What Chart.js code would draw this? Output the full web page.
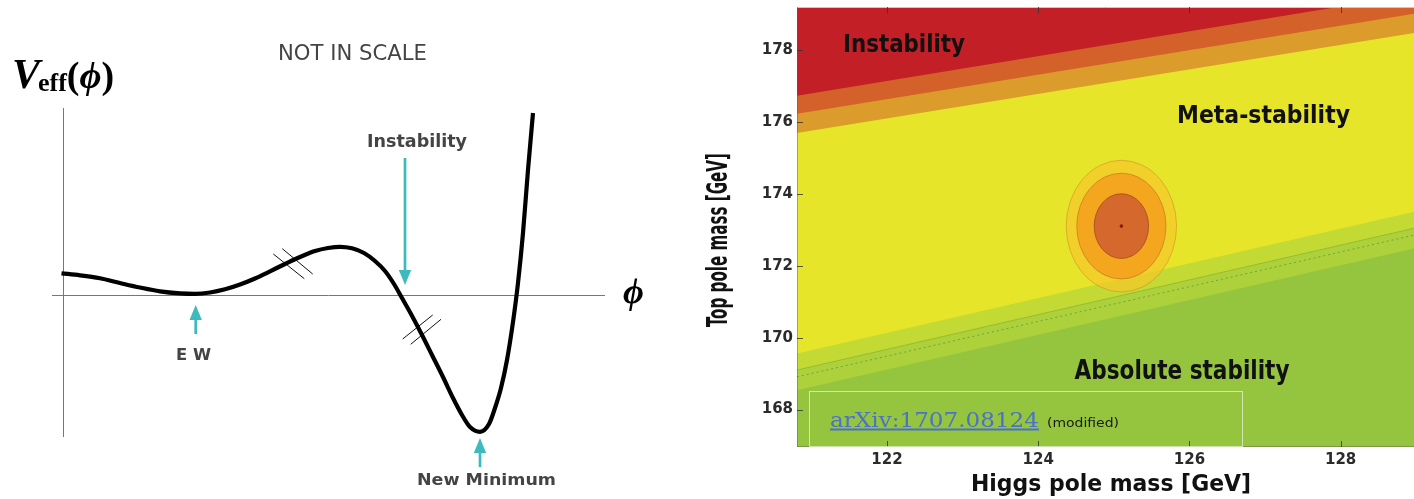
<!DOCTYPE html>
<html>
<head>
<meta charset="utf-8">
<script src="https://cdn.jsdelivr.net/npm/chart.js@4.4.0/dist/chart.umd.min.js"></script>
<style>
  body { margin: 0; background: #fff; width: 1414px; height: 499px; overflow: hidden; position: relative; }
  #potential { position: absolute; left: 0; top: 0; }
  #stability { position: absolute; left: 700px; top: 0; }
</style>
</head>
<body>
<canvas id="potential" width="700" height="499"></canvas>
<canvas id="stability" width="714" height="499"></canvas>
<script>
// POTENCIAL EFETIVO (unidades arbitrárias)
const phiValues = [-0.15, 1.7, 3.7, 5.7, 7.7, 9.7, 11.7, 13.2, 14.7, 16.2, 17.7, 19.2, 20.7, 22.2,
                   23.7, 25.2, 26.5, 27.7, 28.9, 30.1, 31.2, 32.2, 33.1, 33.9, 34.8, 35.8, 36.9, 38.0,
                   39.0, 39.9, 40.7, 41.7, 42.6, 43.2, 43.8, 44.4, 45.0, 45.5, 46.0, 46.5, 47.0];
const vEffValues = [2.17, 1.97, 1.67, 1.2, 0.75, 0.37, 0.17, 0.12, 0.25, 0.57, 1.05, 1.65, 2.37, 3.1,
                    3.8, 4.4, 4.7, 4.82, 4.67, 4.2, 3.4, 2.4, 1.1, -0.3, -1.9, -3.8, -6.0, -8.2,
                    -10.3, -12.0, -13.2, -13.68, -12.9, -11.3, -9.3, -6.5, -2.7, 1.2, 6.2, 12.5, 18.2];
// marcas de "quebra" na curva: [phi1, V1, phi2, V2]
const breakLines = [
    [21.03, 4.1, 24.13, 1.63],
    [21.93, 4.63, 24.97, 2.1],
    [33.97, -4.4, 36.97, -2.0],
    [34.77, -4.93, 37.8, -2.43]
];

// DIAGRAMA DE ESTABILIDADE (GeV)
const higgsRange = [120.81, 128.97];
const topRange = [166.96, 179.19];
const instabilityEdge = [176.72, 179.54];
const orangeEdge = [176.22, 179.0];
const amberEdge = [175.69, 178.47];
const metaEdge = [169.56, 173.50];
const greenBandEdge = [169.10, 173.04];
const dottedEdge = [168.91, 172.85];
const stableEdge = [168.54, 172.48];
const bestFit = [125.1, 173.1];
const sigmaHiggs = [0.73, 0.59, 0.36];
const sigmaTop = [1.83, 1.47, 0.90];

function fitText(ctx, text, x, y, width, font, color, align) {
    ctx.save();
    ctx.font = font;
    ctx.fillStyle = color;
    ctx.textBaseline = "alphabetic";
    ctx.textAlign = "left";
    const k = width / ctx.measureText(text).width;
    ctx.translate(align === "center" ? x - width / 2 : x, y);
    ctx.scale(k, 1);
    ctx.fillText(text, 0, 0);
    ctx.restore();
}

function arrow(ctx, x, yFrom, yTip) {
    const dir = yTip > yFrom ? 1 : -1;
    ctx.save();
    ctx.strokeStyle = "#3dbabd";
    ctx.fillStyle = "#3dbabd";
    ctx.lineWidth = 2.7;
    ctx.beginPath();
    ctx.moveTo(x, yFrom);
    ctx.lineTo(x, yTip - dir * 12);
    ctx.stroke();
    ctx.beginPath();
    ctx.moveTo(x, yTip);
    ctx.lineTo(x - 6.2, yTip - dir * 15);
    ctx.lineTo(x + 6.2, yTip - dir * 15);
    ctx.closePath();
    ctx.fill();
    ctx.restore();
}

const potentialDecor = {
    id: "potentialDecor",
    beforeDatasetsDraw(chart) {
        const { ctx, chartArea: a, scales: { x, y } } = chart;
        ctx.save();
        ctx.strokeStyle = "#777";
        ctx.lineWidth = 1;
        const x0 = Math.round(x.getPixelForValue(0)) + 0.5;
        const y0 = Math.round(y.getPixelForValue(0)) + 0.5;
        ctx.beginPath();
        ctx.moveTo(x0, a.top); ctx.lineTo(x0, a.bottom);
        ctx.moveTo(a.left, y0); ctx.lineTo(a.right, y0);
        ctx.stroke();
        ctx.restore();
    },
    afterDraw(chart) {
        const { ctx, scales: { x, y } } = chart;
        arrow(ctx, x.getPixelForValue(34.2), y.getPixelForValue(13.7), y.getPixelForValue(1.0));
        arrow(ctx, x.getPixelForValue(13.27), y.getPixelForValue(-3.9), y.getPixelForValue(-1.0));
        arrow(ctx, x.getPixelForValue(41.7), y.getPixelForValue(-17.2), y.getPixelForValue(-14.3));

        fitText(ctx, "NOT IN SCALE", 352.5, 60, 149, '21px "DejaVu Sans"', "#444", "center");
        fitText(ctx, "Instability", 417, 147, 100, 'bold 17px "DejaVu Sans"', "#444", "center");
        fitText(ctx, "E W", 193.5, 360, 35, 'bold 16px "DejaVu Sans"', "#444", "center");
        fitText(ctx, "New Minimum", 486.5, 485, 139, 'bold 16px "DejaVu Sans"', "#444", "center");

        // V_eff(phi)
        ctx.save();
        ctx.fillStyle = "#000";
        ctx.textBaseline = "alphabetic";
        let cx = 12;
        ctx.font = 'italic bold 42px "Liberation Serif", serif';
        ctx.fillText("V", cx, 88);
        cx += ctx.measureText("V").width - 2;
        ctx.font = 'bold 26px "Liberation Serif", serif';
        ctx.fillText("eff", cx, 91);
        cx += ctx.measureText("eff").width;
        ctx.font = 'bold 38px "Liberation Serif", serif';
        ctx.fillText("(", cx, 88);
        cx += ctx.measureText("(").width;
        ctx.font = 'italic bold 38px "Liberation Serif", "DejaVu Serif", serif';
        ctx.fillText("\u03D5", cx, 88);
        cx += ctx.measureText("\u03D5").width;
        ctx.font = 'bold 38px "Liberation Serif", serif';
        ctx.fillText(")", cx, 88);
        ctx.font = 'italic bold 36px "Liberation Serif", "DejaVu Serif", serif';
        ctx.fillText("\u03D5", 623, 303);
        ctx.restore();
    }
};

new Chart(document.getElementById("potential"), {
    type: "line",
    data: {
        datasets: [
            {
                data: phiValues.map((p, i) => ({ x: p, y: vEffValues[i] })),
                borderColor: "#000",
                borderWidth: 4.2,
                pointRadius: 0,
                cubicInterpolationMode: "monotone",
                clip: false
            },
            ...breakLines.map(b => ({
                data: [{ x: b[0], y: b[1] }, { x: b[2], y: b[3] }],
                borderColor: "#111",
                borderWidth: 1,
                pointRadius: 0,
                tension: 0,
                clip: false
            }))
        ]
    },
    options: {
        responsive: false,
        animation: false,
        events: [],
        layout: { padding: { left: 52, right: 95, top: 108, bottom: 62 } },
        plugins: { legend: { display: false }, tooltip: { enabled: false } },
        scales: {
            x: { type: "linear", min: -1.1, max: 54.2, display: false },
            y: { type: "linear", min: -14.2, max: 18.7, display: false }
        }
    },
    plugins: [potentialDecor]
});

// REGIÕES DE ESTABILIDADE
function edge(v) {
    return [{ x: higgsRange[0], y: v[0] }, { x: higgsRange[1], y: v[1] }];
}
function region(v, color, extra) {
    return Object.assign({
        data: edge(v),
        fill: "end",
        backgroundColor: color,
        borderWidth: 0,
        pointRadius: 0,
        tension: 0
    }, extra || {});
}

const condensed = '"Liberation Sans Narrow", "DejaVu Sans Condensed", "DejaVu Sans", sans-serif';

const stabilityDecor = {
    id: "stabilityDecor",
    beforeDatasetsDraw(chart) {
        const { ctx, chartArea: a } = chart;
        ctx.save();
        ctx.fillStyle = "#95c53e";
        ctx.fillRect(a.left, a.top, a.right - a.left, a.bottom - a.top);
        ctx.restore();
    },
    afterDatasetsDraw(chart) {
        const { ctx, chartArea: a, scales: { x, y } } = chart;
        const cx = x.getPixelForValue(bestFit[0]);
        const cy = y.getPixelForValue(bestFit[1]);
        const fills = ["rgba(244,200,42,0.72)", "rgba(244,163,31,0.95)", "rgba(213,104,44,1)"];
        const lines = ["rgba(200,140,40,0.55)", "rgba(185,105,30,0.55)", "rgba(140,60,20,0.6)"];
        ctx.save();
        ctx.beginPath();
        ctx.rect(a.left, a.top, a.right - a.left, a.bottom - a.top);
        ctx.clip();
        sigmaHiggs.forEach((sx, i) => {
            const rx = x.getPixelForValue(bestFit[0] + sx) - cx;
            const ry = cy - y.getPixelForValue(bestFit[1] + sigmaTop[i]);
            ctx.beginPath();
            ctx.ellipse(cx, cy, rx, ry, 0, 0, Math.PI * 2);
            ctx.fillStyle = fills[i];
            ctx.fill();
            ctx.strokeStyle = lines[i];
            ctx.lineWidth = 1;
            ctx.stroke();
        });
        ctx.beginPath();
        ctx.arc(cx, cy, 1.8, 0, Math.PI * 2);
        ctx.fillStyle = "#8a1a12";
        ctx.fill();
        ctx.restore();
    },
    afterDraw(chart) {
        const { ctx, chartArea: a, scales: { x, y } } = chart;
        ctx.save();
        // moldura
        ctx.lineWidth = 1;
        ctx.strokeStyle = "#c9c9c9";
        ctx.beginPath();
        ctx.moveTo(a.left, a.top + 0.5); ctx.lineTo(a.right, a.top + 0.5);
        ctx.stroke();
        ctx.strokeStyle = "rgba(90,90,90,0.45)";
        ctx.beginPath();
        ctx.moveTo(a.left + 0.5, a.top); ctx.lineTo(a.left + 0.5, a.bottom);
        ctx.moveTo(a.left, a.bottom - 0.5); ctx.lineTo(a.right, a.bottom - 0.5);
        ctx.stroke();
        // ticks para dentro
        ctx.strokeStyle = "rgba(50,50,50,0.8)";
        ctx.beginPath();
        x.ticks.forEach(t => {
            const px = Math.round(x.getPixelForValue(t.value)) + 0.5;
            const len = t.label != null ? 6 : 3;
            ctx.moveTo(px, a.bottom); ctx.lineTo(px, a.bottom - len);
            ctx.moveTo(px, a.top); ctx.lineTo(px, a.top + len);
        });
        y.ticks.forEach(t => {
            const py = Math.round(y.getPixelForValue(t.value)) + 0.5;
            const len = t.label != null ? 6 : 3;
            ctx.moveTo(a.left, py); ctx.lineTo(a.left + len, py);
        });
        ctx.stroke();
        // caixa da referência
        ctx.strokeStyle = "rgba(220,238,195,0.85)";
        ctx.strokeRect(109.5, 391.5, 433, 55);
        ctx.restore();

        fitText(ctx, "Instability", 143, 52, 122, "bold 25px " + condensed, "#111");
        fitText(ctx, "Meta-stability", 477, 123, 173, "bold 24px " + condensed, "#111");
        fitText(ctx, "Absolute stability", 374.5, 379, 215, "bold 26px " + condensed, "#111");
        fitText(ctx, "Higgs pole mass [GeV]", 411, 491, 280, "bold 23px " + condensed, "#111", "center");

        ctx.save();
        ctx.translate(27, 240);
        ctx.rotate(-Math.PI / 2);
        fitText(ctx, "Top pole mass [GeV]", 0, 0, 174, "bold 28px " + condensed, "#111", "center");
        ctx.restore();

        fitText(ctx, "arXiv:1707.08124", 130, 427, 209, '21px "DejaVu Serif", serif', "#4b72c6");
        ctx.save();
        ctx.fillStyle = "#4b72c6";
        ctx.fillRect(130, 428.5, 209, 2);
        ctx.restore();
        fitText(ctx, "(modified)", 347, 427, 72, '13px "DejaVu Sans"', "#1a1a1a");
    }
};

const tickFont = { family: "DejaVu Sans", size: 15, weight: "bold" };

new Chart(document.getElementById("stability"), {
    type: "line",
    data: {
        datasets: [
            region(instabilityEdge, "#c21f26"),
            region(orangeEdge, "#d4602a"),
            region(amberEdge, "#dc9c2b"),
            region(metaEdge, "#e7e52a"),
            region(greenBandEdge, "#c3da35", { borderWidth: 1, borderColor: "rgba(130,165,45,0.55)" }),
            { data: edge(dottedEdge), fill: false, borderWidth: 1, borderColor: "rgba(80,130,50,0.6)",
              borderDash: [2, 3], pointRadius: 0, tension: 0 },
            region(stableEdge, "#acd13a")
        ]
    },
    options: {
        responsive: false,
        animation: false,
        events: [],
        layout: { padding: { left: 0, right: 0, top: 7, bottom: 0 } },
        plugins: { legend: { display: false }, tooltip: { enabled: false } },
        scales: {
            x: {
                type: "linear", min: higgsRange[0], max: higgsRange[1],
                grid: { display: false, drawTicks: false }, border: { display: false },
                ticks: {
                    stepSize: 0.5, includeBounds: false, autoSkip: false, maxRotation: 0,
                    padding: 4, color: "#2b2b2b", font: tickFont,
                    callback: v => (Math.abs(v % 2) < 1e-6 ? String(v) : null)
                },
                afterFit: s => { s.height = 52; s.paddingLeft = 0; s.paddingRight = 0; }
            },
            y: {
                type: "linear", min: topRange[0], max: topRange[1],
                grid: { display: false, drawTicks: false }, border: { display: false },
                ticks: {
                    stepSize: 0.5, includeBounds: false, autoSkip: false,
                    padding: 4, color: "#2b2b2b", font: tickFont,
                    callback: v => (Math.abs(v % 2) < 1e-6 ? String(v) : null)
                },
                afterFit: s => { s.width = 97; s.paddingTop = 0; s.paddingBottom = 0; }
            }
        }
    },
    plugins: [stabilityDecor]
});
</script>
</body>
</html>
